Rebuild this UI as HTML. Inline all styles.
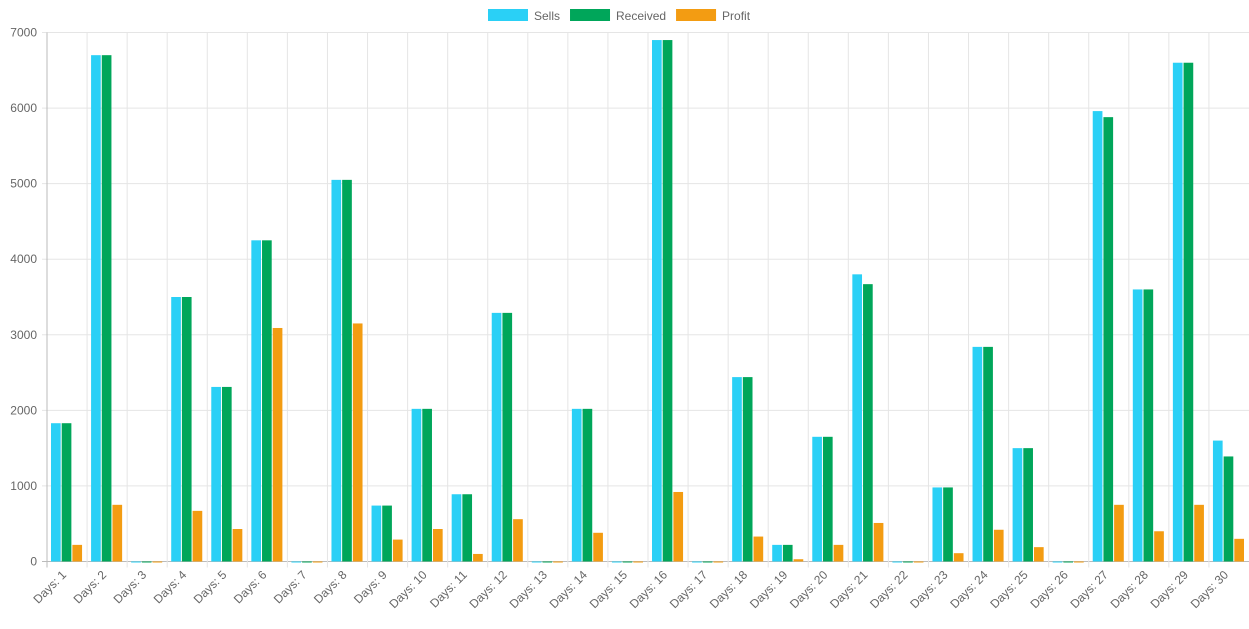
<!DOCTYPE html>
<html><head><meta charset="utf-8"><style>
body{margin:0;background:#fff;font-family:"Liberation Sans",sans-serif}
svg text{font-family:"Liberation Sans",sans-serif;fill:#666;font-size:12px}
</style></head><body>
<svg id="c" width="1249" height="624"></svg>
<script>
const categories=[];for(let i=1;i<=30;i++)categories.push("Days: "+i);
const sells=[1830,6700,0,3500,2310,4250,0,5050,740,2020,890,3290,0,2020,0,6900,0,2440,220,1650,3800,0,980,2840,1500,0,5960,3600,6600,1600];
const received=[1830,6700,0,3500,2310,4250,0,5050,740,2020,890,3290,0,2020,0,6900,0,2440,220,1650,3670,0,980,2840,1500,0,5880,3600,6600,1390];
const profit=[220,750,0,670,430,3090,0,3150,290,430,100,560,0,380,0,920,0,330,30,220,510,0,110,420,190,0,750,400,750,300];
const yTicks=[0,1000,2000,3000,4000,5000,6000,7000];
const seriesNames=["Sells","Received","Profit"];
const colors=["#2ad0f6","#00a65a","#f39c12"];
const svg=document.getElementById('c');const NS="http://www.w3.org/2000/svg";
const L=47,R=1249,T=32.5,B=561.5,yMax=7000;
const cw=(R-L)/categories.length;
const y=v=>B-(v/yMax)*(B-T);
const xc=i=>L+cw*i;
function mk(t,a,p){const e=document.createElementNS(NS,t);for(const k in a)e.setAttribute(k,a[k]);(p||svg).appendChild(e);return e;}
yTicks.forEach(v=>{const l=mk('line',{x1:L-5,x2:R,y1:y(v),y2:y(v),stroke:v===0?'#bbb':'#e5e5e5'});


const t=mk('text',{x:L-10,y:y(v)+4,'text-anchor':'end'});t.textContent=v;

});
categories.forEach((c,i)=>{const l=mk('line',{x1:xc(i),x2:xc(i),y1:T,y2:B+6,stroke:i===0?'#bbb':'#e5e5e5'});


const cx=xc(i)+cw/2;const t=mk('text',{x:cx,y:B+14,'text-anchor':'end',transform:`rotate(-45 ${cx} ${B+14})`});t.textContent=c;

});
const series=[sells,received,profit];const bw=cw*0.8/3;
series.forEach((s,si)=>s.forEach((v,i)=>{const x0=xc(i)+cw*0.1+bw*si-0.5;const r=mk('rect',{x:x0+0.5,y:y(v),width:bw-1,height:Math.max(B-y(v),1),fill:colors[si]});

}));
let lx=488;seriesNames.forEach((n,si)=>{const g=mk('g',{});


mk('rect',{x:lx,y:9,width:40,height:12,fill:colors[si]},g);const t=mk('text',{x:lx+46,y:20},g);t.textContent=n;lx+=46+t.getComputedTextLength()+10;});
</script>
</body></html>
